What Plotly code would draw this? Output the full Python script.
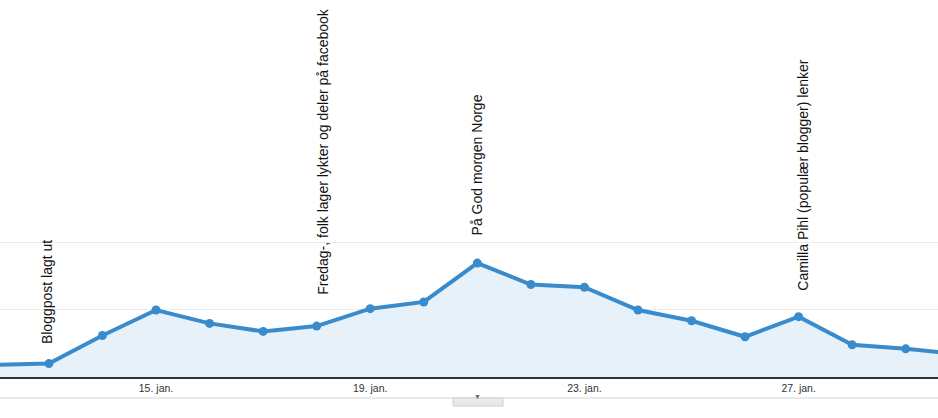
import plotly.graph_objects as go

# daily values, 12. jan - 30. jan 2013
dates = ['2013-01-%02d' % d for d in range(12, 31)]
visits = [9, 10, 31, 50, 40, 34, 38, 51, 56, 85, 69, 67, 50, 42, 30, 45, 24, 21, 17]

tick_dates = ['2013-01-15', '2013-01-19', '2013-01-23', '2013-01-27']
tick_labels = ['15. jan.', '19. jan.', '23. jan.', '27. jan.']

# event notes: date, text, height of text bottom (in y units), small x offset
note_dates = ['2013-01-13', '2013-01-18', '2013-01-21', '2013-01-27']
note_texts = ['Bloggpost lagt ut',
              'Fredag-, folk lager lykter og deler på facebook',
              'På God morgen Norge',
              'Camilla Pihl (populær blogger) lenker']
note_y = [23, 60, 104, 63]
note_shift = [-2, 6, 0, 4]

fig = go.Figure()

fig.add_trace(go.Scatter(
    x=dates,
    y=visits,
    mode='lines+markers',
    line=dict(color='#3a8bcb', width=4),
    marker=dict(size=9, color='#3a8bcb'),
    fill='tozeroy',
    fillcolor='#e7f1fa',
    hoverinfo='x+y',
    showlegend=False,
))

for d, t, yv, sh in zip(note_dates, note_texts, note_y, note_shift):
    fig.add_annotation(
        x=d, y=yv, text=t, textangle=-90,
        showarrow=False, yanchor='bottom', xanchor='center',
        xshift=sh,
        font=dict(family='Liberation Sans, Arial, sans-serif', size=14, color='#111'),
    )

# little tab under the axis (annotation drawer toggle)
fig.add_shape(type='line', xref='paper', yref='paper', x0=0, x1=1,
              y0=-0.0557, y1=-0.0557, line=dict(color='#d4d4d4', width=1))
fig.add_shape(type='rect', xref='paper', yref='paper',
              x0=453 / 938, x1=503 / 938, y0=-0.0557, y1=-0.077,
              fillcolor='#e9e9e9', line=dict(color='#cfcfcf', width=1))
fig.add_annotation(xref='paper', yref='paper', x=478 / 938, y=-0.069,
                   text='▼', showarrow=False,
                   font=dict(size=7, color='#666'))

fig.update_layout(
    width=938, height=418,
    margin=dict(l=0, r=0, t=0, b=41),
    paper_bgcolor='white',
    plot_bgcolor='white',
    xaxis=dict(
        type='date',
        range=['2013-01-12 02:05', '2013-01-29 14:28'],
        tickvals=tick_dates,
        ticktext=tick_labels,
        showgrid=False,
        showline=True,
        linecolor='#333',
        linewidth=2,
        ticks='',
        tickfont=dict(family='Liberation Sans, Arial, sans-serif', size=10.5, color='#333'),
        fixedrange=True,
    ),
    yaxis=dict(
        range=[0, 281.3],
        tickvals=[50, 100],
        showticklabels=False,
        showgrid=True,
        gridcolor='#ececec',
        gridwidth=1,
        zeroline=False,
        fixedrange=True,
    ),
)

# page body has a default 8px margin; drop it so the chart fills the window
fig.write_html('out.html', config={'displayModeBar': False},
               post_script="document.body.style.margin='0';")
